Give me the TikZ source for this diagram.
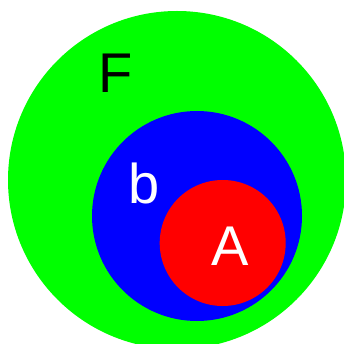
\documentclass[tikz,border=0pt]{standalone}
\usepackage{fontspec}
\setmainfont{Liberation Sans}
\definecolor{pg}{RGB}{0,255,0}
\definecolor{pb}{RGB}{0,0,255}
\definecolor{pr}{RGB}{255,0,0}
\begin{document}
\begin{tikzpicture}[x=1pt,y=-1pt,
  lbl/.style={inner sep=0pt,font=\fontsize{56}{60}\selectfont}]
\useasboundingbox (0,0) rectangle (344,344);
\clip (0,0) rectangle (344,344);
\fill[pg] (177,180) circle[radius=169];
\fill[pb] (197,216) circle[radius=105];
\fill[pr] (222.7,243) circle[radius=63];
\node[lbl,text=black] (F) at (115.5,73) {F};
\node[lbl,text=white] (b) at (144,183) {b};
\node[lbl,text=white] (A) at (230.5,246.5) {A};
\end{tikzpicture}
\end{document}
